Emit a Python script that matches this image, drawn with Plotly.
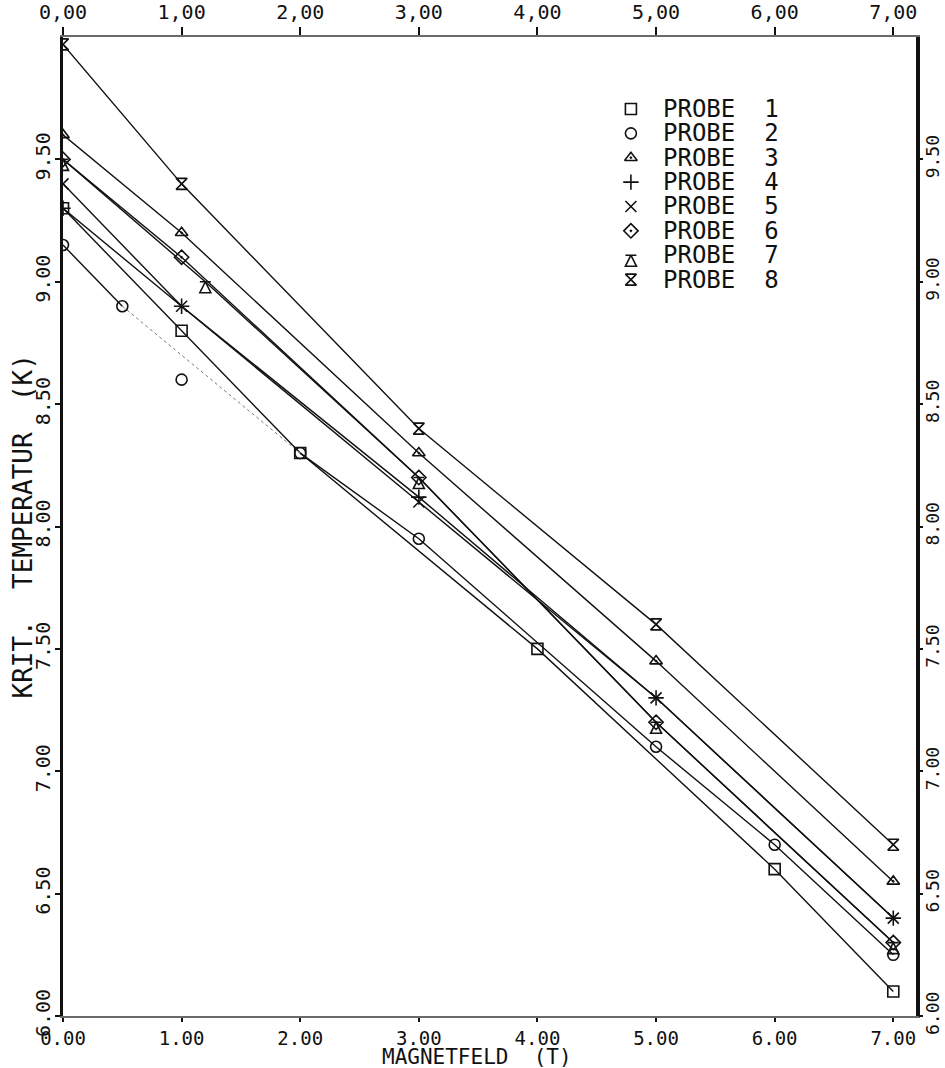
import plotly.graph_objects as go

# Axis ticks and their printed labels
field_ticks = [0, 1, 2, 3, 4, 5, 6, 7]
bottom_labels = ["0.00", "1.00", "2.00", "3.00", "4.00", "5.00", "6.00", "7.00"]
top_labels = ["0,00", "1,00", "2,00", "3,00", "4,00", "5,00", "6,00", "7,00"]
temp_ticks = [6.0, 6.5, 7.0, 7.5, 8.0, 8.5, 9.0, 9.5]
temp_labels = ["6.00", "6.50", "7.00", "7.50", "8.00", "8.50", "9.00", "9.50"]

# Critical temperature (K) versus magnetic field (T) for each sample
b1 = [0, 1, 2, 4, 6, 7]
t1 = [9.30, 8.80, 8.30, 7.50, 6.60, 6.10]
b2 = [0, 0.5, 1, 2, 3, 5, 6, 7]
t2 = [9.15, 8.90, 8.60, 8.30, 7.95, 7.10, 6.70, 6.25]
b3 = [0, 1, 3, 5, 7]
t3 = [9.60, 9.20, 8.30, 7.45, 6.55]
b4 = [0, 1, 3, 5, 7]
t4 = [9.30, 8.90, 8.12, 7.30, 6.40]
b5 = [0, 1, 3, 5, 7]
t5 = [9.40, 8.90, 8.10, 7.30, 6.40]
b6 = [0, 1, 3, 5, 7]
t6 = [9.50, 9.10, 8.20, 7.20, 6.30]
b7 = [0, 1.2, 3, 5, 7]
t7 = [9.50, 9.00, 8.20, 7.20, 6.30]
b8 = [0, 1, 3, 5, 7]
t8 = [9.97, 9.40, 8.40, 7.60, 6.70]

names = ["PROBE  1", "PROBE  2", "PROBE  3", "PROBE  4",
         "PROBE  5", "PROBE  6", "PROBE  7", "PROBE  8"]
fields = [b1, b2, b3, b4, b5, b6, b7, b8]
temps = [t1, t2, t3, t4, t5, t6, t7, t8]
symbols = ["square-open", "circle-open", "triangle-up-open-dot", "cross-thin-open",
           "x-thin-open", "diamond-open-dot", "arrow-bar-up-open", "hourglass-open"]

FONT = "DejaVu Sans Mono"
INK = "#111111"

fig = go.Figure()

# Connecting curves (probe 2's curve skips its stray point at 1 T;
# the stretch 0.5 T -> 2 T is drawn faint)
for i, (bx, ty) in enumerate(zip(fields, temps)):
    if i == 1:
        keep = [k for k in range(len(bx)) if k != 2]
        head = keep[:2]
        bridge = keep[1:3]
        tail = keep[2:]
        for seg, style in ((head, dict(color=INK, width=1.4)),
                           (bridge, dict(color="#777777", width=1, dash="dot")),
                           (tail, dict(color=INK, width=1.4))):
            fig.add_trace(go.Scatter(
                x=[bx[k] for k in seg], y=[ty[k] for k in seg],
                mode="lines", line=style, showlegend=False, hoverinfo="skip"))
    else:
        fig.add_trace(go.Scatter(
            x=bx, y=ty, mode="lines", line=dict(color=INK, width=1.4),
            showlegend=False, hoverinfo="skip"))

# Measured points
for name, bx, ty, sym in zip(names, fields, temps, symbols):
    fig.add_trace(go.Scatter(
        x=bx, y=ty, mode="markers", name=name, showlegend=False,
        marker=dict(symbol=sym, size=11, color=INK,
                    line=dict(color=INK, width=1.6)),
    ))

# Key: symbols on a unit overlay axis, names as text beside them
key_x = 0.665
key_top = 0.9265
key_step = 0.0249
key_y = [key_top - key_step * i for i in range(len(names))]
fig.add_trace(go.Scatter(
    x=[key_x] * len(names), y=key_y, xaxis="x3", yaxis="y3", mode="markers",
    marker=dict(symbol=symbols, size=11, color=INK, line=dict(color=INK, width=1.6)),
    showlegend=False, hoverinfo="skip"))
for name, ky in zip(names, key_y):
    fig.add_annotation(x=key_x + 0.035, y=ky, xref="paper", yref="paper",
                       text=name, showarrow=False, xanchor="left", yanchor="middle",
                       font=dict(family=FONT, size=24, color=INK))

# Axis titles
fig.add_annotation(x=0.485, y=-52 / 976, xref="paper", yref="paper", yshift=-3,
                   text="MAGNETFELD  (T)", showarrow=False,
                   xanchor="center", yanchor="bottom",
                   font=dict(family=FONT, size=21, color=INK))
fig.add_annotation(x=0, y=0.5, xref="paper", yref="paper", xshift=-41,
                   text="KRIT.  TEMPERATUR  (K)", showarrow=False, textangle=-90,
                   xanchor="center", yanchor="middle",
                   font=dict(family=FONT, size=26, color=INK))

# Invisible trace that carries the mirrored top / right axes
fig.add_trace(go.Scatter(x=[field_ticks[0], field_ticks[-1]], y=[temp_ticks[0], temp_ticks[-1]],
                         xaxis="x2", yaxis="y2", mode="markers",
                         marker=dict(opacity=0), showlegend=False, hoverinfo="skip"))

x_range = [0, 7.2]
y_range = [6.0, 10.0]
tick_style = dict(ticks="outside", tickwidth=1.5, tickcolor=INK,
                  showgrid=False, zeroline=False, automargin=False)

fig.update_layout(
    width=945, height=1068,
    margin=dict(l=63, r=28, t=37, b=52),
    paper_bgcolor="white", plot_bgcolor="white",
    font=dict(family=FONT, color=INK, size=20),
    showlegend=False,
    xaxis=dict(range=x_range, tickvals=field_ticks, ticktext=bottom_labels,
               showline=True, linecolor="#6a6a6a", linewidth=2, ticklen=4,
               tickfont=dict(family=FONT, size=19),
               **tick_style),
    xaxis2=dict(range=x_range, overlaying="x", side="top", anchor="y",
                tickvals=field_ticks, ticktext=top_labels,
                showline=True, linecolor="#6a6a6a", linewidth=2, ticklen=8,
                tickfont=dict(family=FONT, size=20),
                **tick_style),
    xaxis3=dict(range=[0, 1], overlaying="x", visible=False, anchor="y3"),
    yaxis=dict(range=y_range, tickvals=temp_ticks, ticktext=temp_labels,
               tickangle=-90, showline=True, linecolor=INK, linewidth=3,
               mirror=True, ticklen=5, ticklabelstandoff=-3,
               tickfont=dict(family=FONT, size=20),
               **tick_style),
    yaxis2=dict(range=y_range, overlaying="y", side="right", anchor="free",
                position=1.0, tickvals=temp_ticks, ticktext=temp_labels,
                tickangle=-90, showline=True, linecolor=INK, linewidth=2.5,
                ticklen=4, ticklabelstandoff=-5,
                tickfont=dict(family=FONT, size=18),
                **tick_style),
    yaxis3=dict(range=[0, 1], overlaying="y", visible=False, anchor="x3"),
)

fig.write_html("out.html")
